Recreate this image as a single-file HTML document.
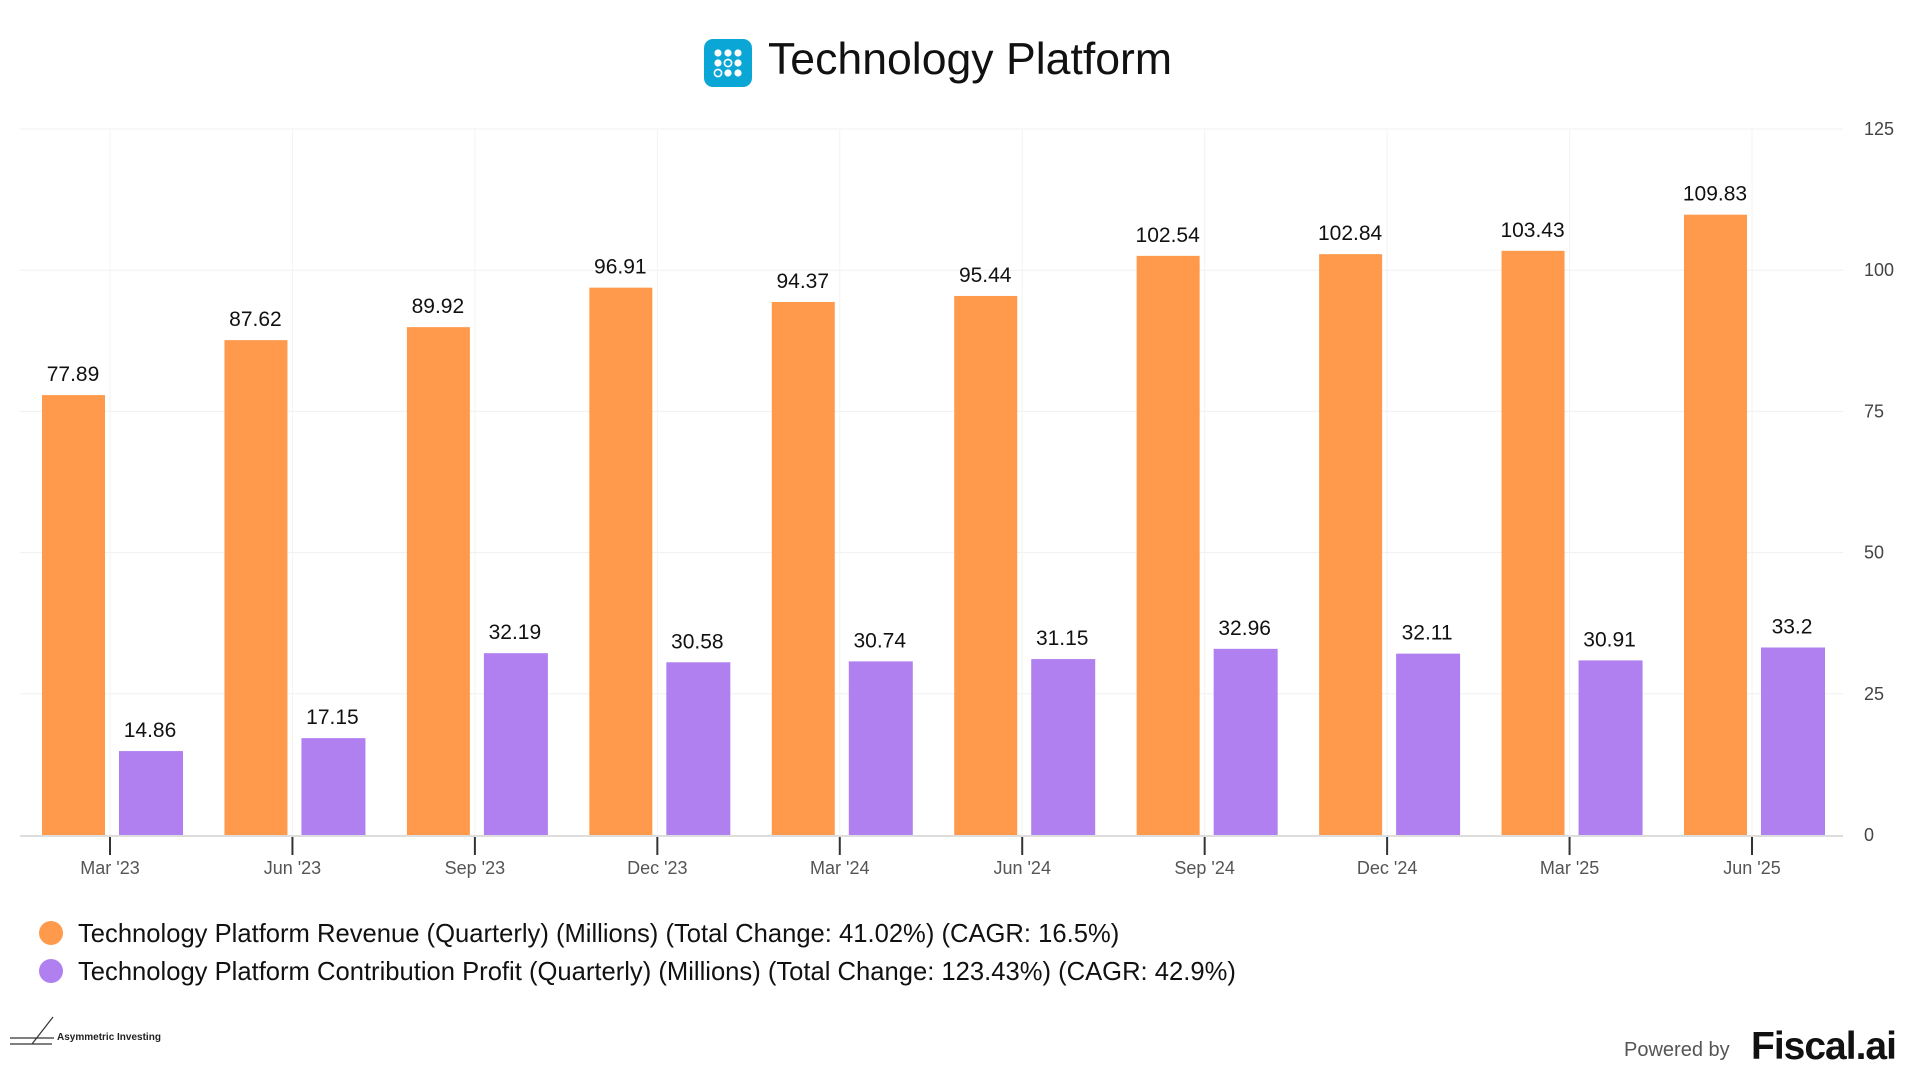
<!DOCTYPE html>
<html><head><meta charset="utf-8">
<style>
html,body{margin:0;padding:0;background:#fff;}
svg{display:block;font-family:"Liberation Sans",Arial,sans-serif;}
</style></head>
<body>
<svg id="chart" width="1920" height="1080" viewBox="0 0 1920 1080" xmlns="http://www.w3.org/2000/svg">
  <g>
    <rect x="704" y="39" width="48" height="48" rx="9" fill="#0aa6d6"/>
    <g fill="#fff">
      <circle cx="718" cy="53" r="3.6"/><circle cx="728" cy="53" r="3.6"/><circle cx="738" cy="53" r="3.6"/>
      <circle cx="718" cy="63" r="3.6"/><circle cx="728" cy="63" r="3.6" fill="none" stroke="#fff" stroke-width="1.6"/><circle cx="738" cy="63" r="3.6"/>
      <circle cx="718" cy="73" r="3.6" fill="none" stroke="#fff" stroke-width="1.6"/><circle cx="728" cy="73" r="3.6"/><circle cx="738" cy="73" r="3.6"/>
    </g>
    <text x="768" y="74" font-size="44.6" fill="#111">Technology Platform</text>
  </g>
  <g id="grid"></g>
  <g id="bars"></g>
  <g id="axes"></g>
  <g>
    <g>
      <circle cx="51" cy="933" r="12" fill="#ff9a4d"/>
      <text x="78" y="942" font-size="25.6" fill="#111">Technology Platform Revenue (Quarterly) (Millions) (Total Change: 41.02%) (CAGR: 16.5%)</text>
    </g>
    <g>
      <circle cx="51" cy="971" r="12" fill="#b07ff0"/>
      <text x="78" y="980" font-size="25.6" fill="#111">Technology Platform Contribution Profit (Quarterly) (Millions) (Total Change: 123.43%) (CAGR: 42.9%)</text>
    </g>
  </g>
  <g>
    <path d="M10 1044 H52 M10 1038 H54 M32 1044 L53 1017" stroke="#333" stroke-width="1.2" fill="none"/>
    <text x="57" y="1040" font-size="10" font-weight="bold" fill="#222">Asymmetric Investing</text>
  </g>
  <g>
    <text x="1624" y="1056" font-size="20" fill="#555">Powered by</text>
    <text x="1751" y="1059" font-size="39" font-weight="bold" fill="#111" letter-spacing="-1">Fiscal.ai</text>
  </g>
</svg>
<script>
const categories = ["Mar '23","Jun '23","Sep '23","Dec '23","Mar '24","Jun '24","Sep '24","Dec '24","Mar '25","Jun '25"];
const revenue = [77.89,87.62,89.92,96.91,94.37,95.44,102.54,102.84,103.43,109.83];
const profit = [14.86,17.15,32.19,30.58,30.74,31.15,32.96,32.11,30.91,33.2];
const yTicks = [0,25,50,75,100,125];

const NS = "http://www.w3.org/2000/svg";
const X0 = 110, XSTEP = (1752-110)/9;
const Y0 = 835, YTOP = 129, YMAX = 125;
function xScale(i){ return X0 + i*XSTEP; }
function yScale(v){ return Y0 - (v/YMAX)*(Y0-YTOP); }
function mk(tag, attrs, parent){ const e=document.createElementNS(NS,tag); for(const k in attrs) e.setAttribute(k,attrs[k]); parent.appendChild(e); return e; }

const grid = document.getElementById('grid');
const bars = document.getElementById('bars');
const axes = document.getElementById('axes');

yTicks.forEach(t=>{
  const y = yScale(t);
  if(t!==0){
    const l = mk('line',{x1:20,x2:1843,y1:y,y2:y,stroke:'#f0f0f0','stroke-width':1},grid);
    
    
  }
  const tx = mk('text',{x:1864,y:y+6,'font-size':18,fill:'#444'},axes);
  tx.textContent = t;
  
  
});

categories.forEach((c,i)=>{
  const cx = xScale(i);
  const vl = mk('line',{x1:cx,x2:cx,y1:YTOP,y2:Y0,stroke:'#f3f3f3','stroke-width':1},grid);
  
  

  const yr = yScale(revenue[i]);
  const rb = mk('rect',{x:cx-68,y:yr,width:63,height:Y0-yr,fill:'#ff9a4d'},bars);
  
  
  const rt = mk('text',{x:cx-37,y:yr-14,'font-size':21,'text-anchor':'middle',fill:'#111'},bars);
  rt.textContent = revenue[i];
  
  

  const yp = yScale(profit[i]);
  const pb = mk('rect',{x:cx+9,y:yp,width:64,height:Y0-yp,fill:'#b07ff0'},bars);
  
  
  const pt = mk('text',{x:cx+40,y:yp-14,'font-size':21,'text-anchor':'middle',fill:'#111'},bars);
  pt.textContent = profit[i];
  
  

  const tk = mk('line',{x1:cx,x2:cx,y1:Y0+2,y2:Y0+20,stroke:'#333','stroke-width':2},axes);
  
  
  const tl = mk('text',{x:cx,y:874,'font-size':18,'text-anchor':'middle',fill:'#555'},axes);
  tl.textContent = c;
  
  
});
const base = mk('line',{x1:20,x2:1843,y1:Y0+1,y2:Y0+1,stroke:'#ddd','stroke-width':2},axes);


</script>
</body></html>
